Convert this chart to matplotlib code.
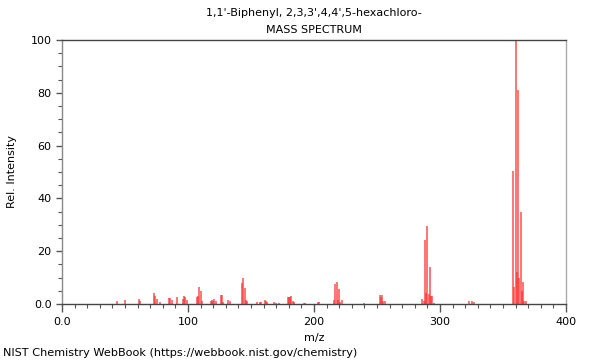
import matplotlib
matplotlib.use("Agg")
import matplotlib.pyplot as plt
from matplotlib.ticker import MultipleLocator, FixedLocator

title_line1 = "1,1'-Biphenyl, 2,3,3',4,4',5-hexachloro-"
title_line2 = "MASS SPECTRUM"
xlabel = "m/z"
ylabel = "Rel. Intensity"
footer = "NIST Chemistry WebBook (https://webbook.nist.gov/chemistry)"

mz = [44, 50, 61, 62, 73, 74, 75, 78, 85, 86, 87, 91, 96, 97, 98, 99,
      107, 108, 109, 110, 111, 118, 119, 120, 121, 122, 126, 127, 128,
      132, 133, 143, 144, 145, 146, 147, 155, 157, 158, 161, 162, 163,
      168, 170, 172, 179, 180, 181, 182, 183, 184, 192, 193, 203, 204,
      216, 217, 218, 219, 220, 221, 222, 240, 252, 253, 254, 255, 256,
      286, 287, 288, 289, 290, 291, 292, 293, 294, 295, 323, 325, 327,
      358, 359, 360, 361, 362, 363, 364, 365, 366, 367, 368]
intensity = [1.0, 1.5, 2.0, 1.0, 4.0, 3.0, 2.0, 0.8, 2.3, 2.3, 1.5, 2.8, 2.0, 3.0, 2.8, 1.5,
             2.8, 3.2, 6.3, 4.8, 1.0, 1.0, 1.5, 1.2, 1.8, 1.0, 3.4, 3.4, 0.8,
             1.6, 1.2, 8.0, 9.8, 6.0, 1.5, 1.2, 0.6, 0.6, 0.6, 1.6, 1.2, 0.8,
             0.6, 0.5, 0.5, 2.8, 2.8, 2.5, 2.9, 1.2, 0.8, 0.5, 0.5, 0.6, 0.6,
             1.5, 7.5, 8.2, 1.5, 5.8, 0.8, 1.5, 0.5, 3.4, 2.5, 3.4, 1.2, 1.2,
             2.0, 1.0, 24.2, 4.0, 29.5, 3.8, 14.0, 3.0, 3.0, 0.5, 1.3, 1.3, 0.6,
             50.5, 6.5, 100.0, 12.0, 81.0, 10.0, 35.0, 4.8, 8.4, 1.0, 1.2]

x_ticks = [0, 100, 200, 300, 400]
x_ticklabels = ["0.0", "100", "200", "300", "400"]
y_ticks = [0, 20, 40, 60, 80, 100]
y_ticklabels = ["0.0", "20", "40", "60", "80", "100"]

plt.rcParams['font.family'] = ['DejaVu Sans']
fig = plt.figure(figsize=(6, 3.6), dpi=100)
ax = fig.add_axes([62/600, 1-304/360, 504/600, 264/360])

ax.vlines(mz, 0, intensity, colors='#ff3030', linewidth=1.1, alpha=0.85)

ax.set_xlim(0, 400)
ax.set_ylim(0, 100)
ax.xaxis.set_major_locator(FixedLocator(x_ticks))
ax.set_xticklabels(x_ticklabels)
ax.yaxis.set_major_locator(FixedLocator(y_ticks))
ax.set_yticklabels(y_ticklabels)
ax.xaxis.set_minor_locator(MultipleLocator(10))
ax.yaxis.set_minor_locator(MultipleLocator(5))
ax.tick_params(axis='both', which='major', labelsize=8, direction='out', color='#555555')
ax.tick_params(axis='x', which='major', length=6, width=1)
ax.tick_params(axis='y', which='major', length=4, width=1)
ax.tick_params(axis='both', which='minor', length=3, width=0.8, color='#555555')

ax.spines['top'].set_color('#444444')
ax.spines['bottom'].set_color('#444444')
ax.spines['left'].set_color('#888888')
ax.spines['right'].set_color('#aaaaaa')
for s in ax.spines.values():
    s.set_linewidth(1.0)

ax.set_xlabel(xlabel, fontsize=8, labelpad=4)
ax.set_ylabel(ylabel, fontsize=8, labelpad=10)

fig.text(314/600, 1-13/360, title_line1, ha='center', va='center', fontsize=8)
fig.text(314/600, 1-30/360, title_line2, ha='center', va='center', fontsize=8)
fig.text(3/600, 1-353/360, footer, ha='left', va='center', fontsize=8.1)

fig.savefig("out.png", dpi=100)
